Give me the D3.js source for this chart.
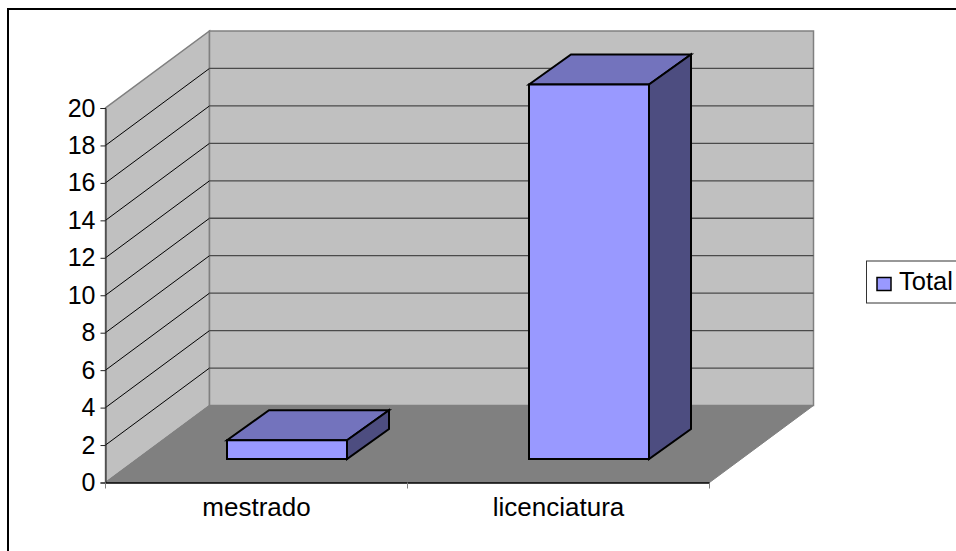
<!DOCTYPE html>
<html><head><meta charset="utf-8">
<script src="https://cdn.jsdelivr.net/npm/d3@7/dist/d3.min.js"></script>
<style>html,body{margin:0;padding:0;background:#fff}svg{display:block}</style>
</head><body><svg id="c" width="956" height="551"></svg>
<script>
const categories = ["mestrado", "licenciatura"];
const seriesName = "Total";
const values = [1, 20];
const yTicks = [0, 2, 4, 6, 8, 10, 12, 14, 16, 18, 20];

const font = "'Liberation Sans', Arial, sans-serif";
const svg = d3.select("#c");
const x = d3.scaleBand().domain(categories).range([105.5, 709.5]);
const y = d3.scaleLinear().domain([0, 20]).range([482.5, 108]);
const depthX = 104, depthY = -77;
const barW = 120, barDX = 42, barDY = -30;
const offX = 30.5, offY = -23.5;
const poly = (pts, fill, stroke, sw) => svg.append("polygon")
  .attr("points", pts.map(p => p.join(",")).join(" "))
  .attr("fill", fill).attr("stroke", stroke).attr("stroke-width", sw).attr("stroke-linejoin", "miter");

// outer frame
svg.append("rect").attr("x", 8).attr("y", 9).attr("width", 960).attr("height", 560)
  .attr("fill", "#fff").attr("stroke", "#000").attr("stroke-width", 2);

const [x0, x1] = x.range();
const y0 = y(0), yT = y(20);
// side wall, back wall, floor
poly([[x0, y0], [x0 + depthX, y0 + depthY], [x0 + depthX, yT + depthY], [x0, yT]], "#c0c0c0", "#808080", 1.5);
poly([[x0 + depthX, y0 + depthY], [x1 + depthX, y0 + depthY], [x1 + depthX, yT + depthY], [x0 + depthX, yT + depthY]], "#c0c0c0", "#808080", 1.5);
poly([[x0, y0], [x1, y0], [x1 + depthX, y0 + depthY], [x0 + depthX, y0 + depthY]], "#808080", "#808080", 1);

// gridlines
yTicks.slice(1, -1).forEach(t => {
  svg.append("path").attr("fill", "none").attr("stroke", "#000").attr("stroke-width", 1)
    .attr("d", d3.line()([[x0, y(t)], [x0 + depthX, y(t) + depthY]]));
  svg.append("path").attr("fill", "none").attr("stroke", "#4a4a4a").attr("stroke-width", 1.3)
    .attr("d", d3.line()([[x0 + depthX, y(t) + depthY], [x1 + depthX, y(t) + depthY]]));
});

// axes
const axisY = svg.append("g").attr("transform", `translate(${x0},0)`)
  .call(d3.axisLeft(y).tickValues(yTicks).tickSize(5).tickPadding(5));
axisY.selectAll("text").attr("font-family", font).attr("font-size", 25).attr("fill", "#000");
axisY.selectAll("line,path").attr("stroke", "#222");
const axisX = svg.append("g").attr("transform", `translate(0,${y0})`)
  .call(d3.axisBottom(x).tickSizeOuter(0).tickSize(0).tickPadding(15));
axisX.selectAll("text").attr("font-family", font).attr("font-size", 26).attr("fill", "#000");
axisX.selectAll("path").attr("stroke", "#000").attr("stroke-width", 1.5);
[x0, x0 + x.bandwidth(), x1].forEach(px => svg.append("path").attr("stroke", "#808080")
  .attr("d", d3.line()([[px, y0], [px, y0 + 6]])));

// bars
categories.forEach((c, i) => {
  const cx = x(c) + x.bandwidth() / 2 + offX;
  const l = cx - barW / 2, r = cx + barW / 2;
  const b = y(0) + offY, t = y(values[i]) + offY;
  poly([[l, t], [l + barDX, t + barDY], [r + barDX, t + barDY], [r, t]], "#7373bd", "#000", 2);
  poly([[r, t], [r + barDX, t + barDY], [r + barDX, b + barDY], [r, b]], "#4d4d80", "#000", 2);
  svg.append("rect").attr("x", l).attr("y", t).attr("width", barW).attr("height", b - t)
    .attr("fill", "#9999ff").attr("stroke", "#000").attr("stroke-width", 2);
});

// legend
svg.append("rect").attr("x", 866.5).attr("y", 261).attr("width", 100).attr("height", 42)
  .attr("fill", "#fff").attr("stroke", "#333").attr("stroke-width", 1);
svg.append("rect").attr("x", 877).attr("y", 277.5).attr("width", 14).attr("height", 13)
  .attr("fill", "#9999ff").attr("stroke", "#000").attr("stroke-width", 1.5);
svg.append("text").attr("x", 899).attr("y", 290).attr("font-family", font).attr("font-size", 25.5).text(seriesName);
</script></body></html>
